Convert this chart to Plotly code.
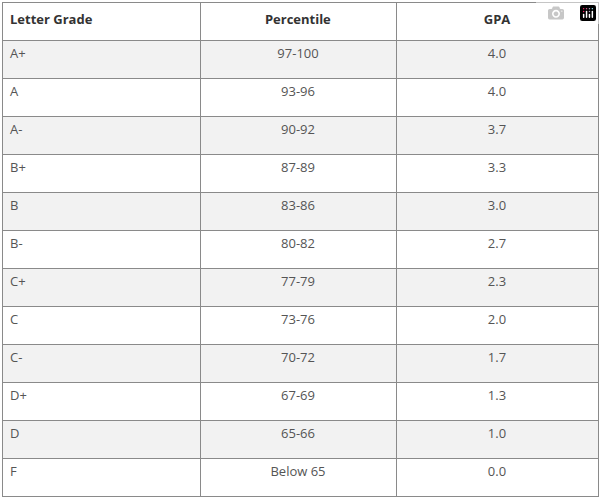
import plotly.graph_objects as go

headers = ["Letter Grade", "Percentile", "GPA"]
grades = ["A+", "A", "A-", "B+", "B", "B-", "C+", "C", "C-", "D+", "D", "F"]
percentiles = ["97-100", "93-96", "90-92", "87-89", "83-86", "80-82", "77-79", "73-76", "70-72", "67-69", "65-66", "Below 65"]
gpas = ["4.0", "4.0", "3.7", "3.3", "3.0", "2.7", "2.3", "2.0", "1.7", "1.3", "1.0", "0.0"]

fills = ["#f2f2f2" if i % 2 == 0 else "white" for i in range(len(grades))]

fig = go.Figure(go.Table(
    columnwidth=[198, 196, 202],
    header=dict(values=["<b>%s</b>" % h for h in headers], align=["left", "center", "center"],
                fill_color="white", line_color="#8a8a8a", height=38,
                font=dict(family="Open Sans", size=13, color="#333333")),
    cells=dict(values=[grades, percentiles, gpas], align=["left", "center", "center"],
               fill_color=[fills], line_color="#8a8a8a", height=38,
               font=dict(family="Open Sans", size=13, color="#555555")),
))
fig.update_layout(width=602, height=499, margin=dict(l=2, r=4, t=2, b=0), paper_bgcolor="white")
fig.write_html("out.html", post_script="document.body.style.margin='0';")
